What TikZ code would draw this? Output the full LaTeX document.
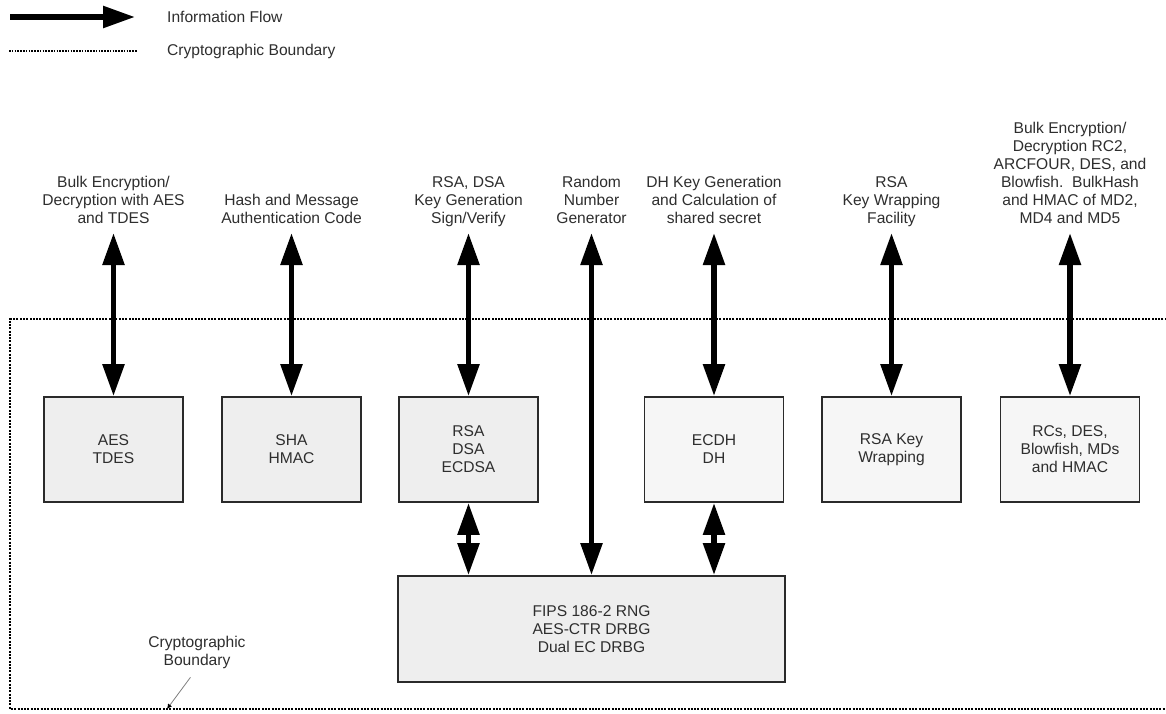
\documentclass[tikz,border=0pt]{standalone}
\usepackage{fontspec}
\setmainfont{Liberation Sans}
\usetikzlibrary{arrows.meta,calc}
\definecolor{txt}{HTML}{2E2E2E}
\definecolor{boxfill}{HTML}{EEEEEE}
\definecolor{boxfillb}{HTML}{F6F6F6}
\definecolor{edge}{HTML}{2A2A2A}
\begin{document}
\begin{tikzpicture}[x=1pt,y=-1pt,
  every node/.style={font=\fontsize{15.6}{18}\selectfont, text=txt},
  blk/.style={draw=edge, line width=1.8pt, fill=boxfill, minimum width=139pt, minimum height=105pt, align=center, inner sep=0pt},
  blkw/.style={blk, fill=boxfillb},
  flow/.style={line width=5.5pt, {Triangle[length=32pt,width=21pt]}-{Triangle[length=32pt,width=21pt]}},
  lab/.style={align=center, anchor=south, inner sep=0pt},
  bound/.style={line width=1.8pt, dash pattern=on 2pt off 1.3pt}]
\useasboundingbox (0,0) rectangle (1166,713);
\fill[white] (0,0) rectangle (1166,713);

% legend
\coordinate (lgA) at (10,17);
\coordinate (lgB) at (135,17);
\draw[line width=5.5pt, -{Triangle[length=32pt,width=21pt]}] (lgA) -- (lgB);
\node[anchor=west, inner sep=0pt] (lgflow) at (167,17) {Information Flow};
\coordinate (lgC) at (9,51);
\coordinate (lgD) at (137,51);
\draw[line width=1.3pt, dash pattern=on 1.5pt off 1.3pt] (lgC) -- (lgD);
\node[anchor=west, inner sep=0pt] (lgbound) at (167,51) {Cryptographic Boundary};

% cryptographic boundary
\coordinate (bTR) at (1170,319);
\coordinate (bTL) at (10,319);
\coordinate (bBL) at (10,709);
\coordinate (bBR) at (1170,709);
\draw[bound] (bTR) -- (bTL) -- (bBL) -- (bBR);

% boxes
\node[blk]  (aes)  at (113.5,449.5) {AES\\TDES};
\node[blk]  (sha)  at (291.5,449.5) {SHA\\HMAC};
\node[blk]  (rsa)  at (468.5,449.5) {RSA\\DSA\\ECDSA};
\node[blkw] (ecdh) at (714,449.5)   {ECDH\\DH};
\node[blkw] (rsakw) at (891.5,449.5) {RSA Key\\Wrapping};
\node[blkw] (rcs)  at (1070,449.5)  {RCs, DES,\\Blowfish, MDs\\and HMAC};
\node[blk, minimum width=387pt, minimum height=106pt] (fips) at (591.5,629) {FIPS 186-2 RNG\\AES-CTR DRBG\\Dual EC DRBG};

% top labels
\node[lab] (aeslab) at (113.5,229) {Bulk Encryption/\\Decryption with AES\\and TDES\strut};
\node[lab] (shalab) at (291.5,229) {Hash and Message\\Authentication Code\strut};
\node[lab] (rsalab) at (468.5,229) {RSA, DSA\\Key Generation\\Sign/Verify\strut};
\node[lab] (rnglab) at (591.5,229) {Random\\Number\\Generator\strut};
\node[lab] (ecdhlab) at (714,229) {DH Key Generation\\and Calculation of\\shared secret\strut};
\node[lab] (rsakwlab) at (891.5,229) {RSA\\Key Wrapping\\Facility\strut};
\node[lab] (rcslab) at (1070,229) {Bulk Encryption/\\Decryption RC2,\\ARCFOUR, DES, and\\Blowfish.\ \ BulkHash\\and HMAC of MD2,\\MD4 and MD5\strut};

% information flow
\draw[flow, shorten <=4pt] (aeslab.south) -- (aes.north);
\draw[flow, shorten <=4pt] (shalab.south) -- (sha.north);
\draw[flow, shorten <=4pt] (rsalab.south) -- (rsa.north);
\draw[flow, shorten <=4pt] (rnglab.south) -- (rnglab.south |- fips.north);
\draw[flow, shorten <=4pt] (ecdhlab.south) -- (ecdh.north);
\draw[flow, shorten <=4pt] (rsakwlab.south) -- (rsakw.north);
\draw[flow, shorten <=4pt] (rcslab.south) -- (rcs.north);
\draw[flow] (rsa.south) -- (rsa.south |- fips.north);
\draw[flow] (ecdh.south) -- (ecdh.south |- fips.north);

% boundary callout
\node[align=center, inner sep=0pt] (cblab) at (197,652) {Cryptographic\\Boundary};
\coordinate (cbpt) at (167,709);
\draw[gray, line width=0.8pt, shorten <=11pt, -{Latex[length=5pt,width=5pt,color=black]}] (cblab.south) -- (cbpt);
\end{tikzpicture}
\end{document}
